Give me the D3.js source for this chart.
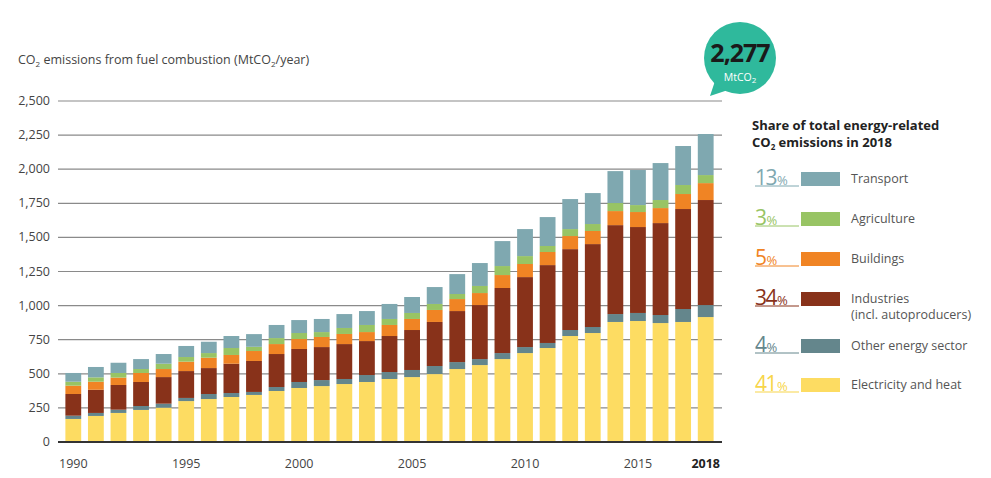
<!DOCTYPE html>
<html>
<head>
<script src="https://d3js.org/d3.v7.min.js"></script>
<style>
body { margin: 0; background: #fff; }
text { font-family: "Open Sans", sans-serif; }
</style>
</head>
<body>
<svg id="chart" width="991" height="478"></svg>
<script>
const years = d3.range(1990, 2019);
const electricity = [169,191,213,235,252,300,315,330,345,374,396,410,425,440,462,476,498,535,564,608,652,689,777,799,880,887,872,880,916];
const otherEnergy = [24,22,24,29,29,23,37,29,22,29,44,44,37,51,51,52,59,51,44,44,44,37,44,44,58,59,59,95,88];
const industries  = [159,170,181,176,195,197,190,215,227,242,242,242,256,249,264,293,323,374,396,477,513,571,593,608,652,630,674,733,770];
const buildings   = [61,59,54,66,59,69,76,64,73,73,73,74,74,66,81,81,88,88,88,95,96,96,96,96,103,110,110,110,124];
const agriculture = [29,32,34,29,39,34,34,51,31,44,44,36,44,52,44,44,44,37,52,66,58,44,51,51,59,51,59,66,59];
const transport   = [64,76,75,73,71,81,83,88,93,96,95,96,102,102,110,117,124,146,168,183,198,212,220,227,234,257,271,286,301];
const yTicks = [0,250,500,750,1000,1250,1500,1750,2000,2250,2500];
const xTickYears = [1990,1995,2000,2005,2010,2015,2018];

const series = [
  {key: "elec", name: ["Electricity and heat"], share: "41", color: "#fddc62", pctColor: "#f7d54a", values: electricity},
  {key: "other", name: ["Other energy sector"], share: "4", color: "#64868c", pctColor: "#64868c", values: otherEnergy},
  {key: "ind", name: ["Industries", "(incl. autoproducers)"], share: "34", color: "#88321a", pctColor: "#88321a", values: industries},
  {key: "bld", name: ["Buildings"], share: "5", color: "#f08424", pctColor: "#f08424", values: buildings},
  {key: "agr", name: ["Agriculture"], share: "3", color: "#98c464", pctColor: "#98c464", values: agriculture},
  {key: "tr", name: ["Transport"], share: "13", color: "#7fa8b0", pctColor: "#7fa8b0", values: transport}
];

const rows = years.map((y, i) => {
  const r = {year: y};
  series.forEach(s => r[s.key] = s.values[i]);
  return r;
});

const svg = d3.select("#chart");
const x = d3.scaleBand().domain(years).range([62, 717]).paddingInner(0.3).paddingOuter(0.15);
const y = d3.scaleLinear().domain([0, 2500]).range([442, 101]);

// grid lines + y labels
svg.append("g").selectAll("line").data(yTicks.filter(d => d > 0)).enter().append("line")
  .attr("x1", 58).attr("x2", 722).attr("y1", d => y(d)).attr("y2", d => y(d))
  .attr("stroke", "#8a8a8a").attr("stroke-width", 1.2);
svg.append("g").selectAll("text").data(yTicks).enter().append("text")
  .attr("x", 50).attr("y", d => y(d) + 4).attr("text-anchor", "end")
  .attr("font-size", 12.5).attr("fill", "#444").text(d => d3.format(",")(d));

// stacked bars
const stack = d3.stack().keys(series.map(s => s.key))(rows);
svg.append("g").selectAll("g").data(stack).enter().append("g")
  .attr("fill", (d, i) => series[i].color)
  .selectAll("rect").data(d => d).enter().append("rect")
  .attr("x", d => x(d.data.year)).attr("width", x.bandwidth())
  .attr("y", d => y(d[1])).attr("height", d => y(d[0]) - y(d[1]));

// baseline
svg.append("line").attr("x1", 58).attr("x2", 722).attr("y1", y(0)).attr("y2", y(0))
  .attr("stroke", "#333").attr("stroke-width", 2);

// x labels
svg.append("g").selectAll("text").data(xTickYears).enter().append("text")
  .attr("x", d => x(d) + x.bandwidth() / 2).attr("y", 468).attr("text-anchor", "middle")
  .attr("font-size", 12.5).attr("fill", d => d === 2018 ? "#222" : "#444")
  .attr("font-weight", d => d === 2018 ? "bold" : "normal").text(d => d);

// title
const t = svg.append("text").attr("x", 18).attr("y", 64).attr("font-size", 12.5).attr("fill", "#444");
t.append("tspan").text("CO");
t.append("tspan").attr("font-size", 8).attr("dy", 3).text("2");
t.append("tspan").attr("dy", -3).text(" emissions from fuel combustion (MtCO");
t.append("tspan").attr("font-size", 8).attr("dy", 3).text("2");
t.append("tspan").attr("dy", -3).text("/year)");

// bubble
svg.append("path").attr("d", "M716,78 L710,96 L734,88 Z").attr("fill", "#2fb99c");
svg.append("circle").attr("cx", 740).attr("cy", 58).attr("r", 36).attr("fill", "#2fb99c");
svg.append("text").attr("x", 740).attr("y", 62).attr("text-anchor", "middle")
  .attr("font-family", "'DejaVu Sans Condensed', sans-serif").attr("font-weight", "bold")
  .attr("font-size", 25).attr("letter-spacing", -1).attr("fill", "#1a1a1a").text("2,277");
const mt = svg.append("text").attr("x", 740).attr("y", 81).attr("text-anchor", "middle")
  .attr("font-size", 10.5).attr("fill", "#fff");
mt.append("tspan").text("MtCO");
mt.append("tspan").attr("font-size", 8).attr("dy", 2).text("2");

// legend
svg.append("text").attr("x", 752).attr("y", 130).attr("font-size", 13).attr("font-weight", "bold")
  .attr("fill", "#222").text("Share of total energy-related");
const l2 = svg.append("text").attr("x", 752).attr("y", 147).attr("font-size", 13).attr("font-weight", "bold").attr("fill", "#222");
l2.append("tspan").text("CO");
l2.append("tspan").attr("font-size", 8).attr("dy", 3).text("2");
l2.append("tspan").attr("dy", -3).text(" emissions in 2018");

const legendY = {tr: 178, agr: 218, bld: 258, ind: 298, other: 345, elec: 384};
series.forEach(s => {
  const cy = legendY[s.key];
  const g = svg.append("g");
  const p = g.append("text").attr("x", 755).attr("y", cy + 7)
    .attr("font-family", "'DejaVu Sans Condensed', sans-serif").attr("fill", s.pctColor);
  p.append("tspan").attr("font-size", 21).attr("letter-spacing", -1.5).text(s.share);
  p.append("tspan").attr("font-size", 13).attr("dx", 1).text("%");
  g.append("line").attr("x1", 755).attr("x2", 799).attr("y1", cy + 8).attr("y2", cy + 8)
    .attr("stroke", s.pctColor).attr("stroke-width", 1);
  g.append("rect").attr("x", 801).attr("y", cy - 6).attr("width", 39).attr("height", 14).attr("fill", s.color);
  s.name.forEach((n, j) => {
    g.append("text").attr("x", 851).attr("y", cy + 5 + j * 16).attr("font-size", 12.5)
      .attr("fill", "#555").text(n);
  });
});
</script>
</body>
</html>
